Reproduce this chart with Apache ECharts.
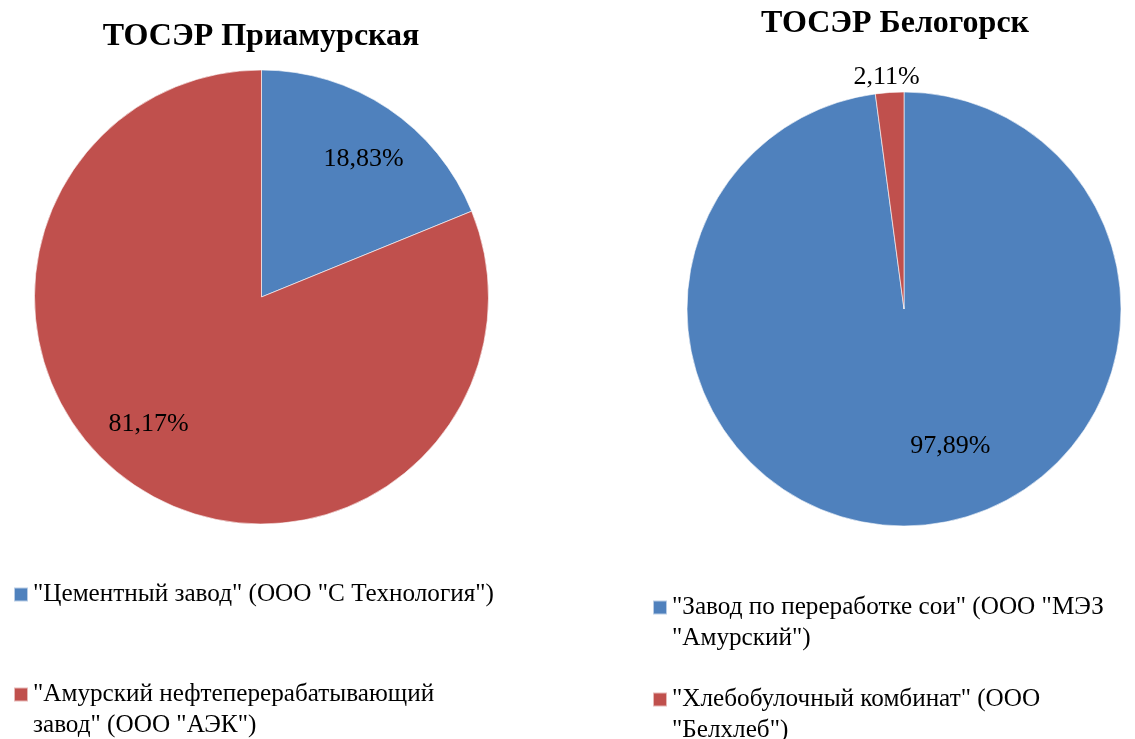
<!DOCTYPE html>
<html>
<head>
<meta charset="utf-8">
<script src="https://cdn.jsdelivr.net/npm/echarts@6/dist/echarts.min.js"></script>
<style>
  html, body { margin: 0; padding: 0; background: #fff; }
  #chart { width: 1135px; height: 739px; }
</style>
</head>
<body>
<div id="chart"></div>
<script>
// левая диаграмма
let leftTitle = 'ТОСЭР Приамурская'
let leftNames = ['"Цементный завод" (ООО "С Технология")', '"Амурский нефтеперерабатывающий завод" (ООО "АЭК")']
let leftLegend = ['"Цементный завод" (ООО "С Технология")', '"Амурский нефтеперерабатывающий\nзавод" (ООО "АЭК")']
let leftValues = [18.83, 81.17]

// правая диаграмма
let rightTitle = 'ТОСЭР Белогорск'
let rightNames = ['"Завод по переработке сои" (ООО "МЭЗ "Амурский")', '"Хлебобулочный комбинат" (ООО "Белхлеб")']
let rightLegend = ['"Завод по переработке сои" (ООО "МЭЗ\n"Амурский")', '"Хлебобулочный комбинат" (ООО\n"Белхлеб")']
let rightValues = [97.89, 2.11]

const colors = ['#4F81BD', '#C0504D']
const font = '"Liberation Serif", "Times New Roman", serif'

// смещения подписей от стандартного положения inside
const leftOffsets = [[37, -41], [-48, 30]]
const rightOffsets = [[39, 26], [-10, -121]]

const legendFont = { fontFamily: font, fontSize: 25.2, lineHeight: 31, color: '#000' }

function fmt(v) {
  return v.toFixed(2).replace('.', ',') + '%'
}

function pieData(names, values, offsets) {
  return names.map((n, i) => ({
    name: n,
    value: values[i],
    itemStyle: { color: colors[i] },
    label: { offset: offsets[i] }
  }))
}

// двухстрочная подпись: пустая строка сверху, чтобы значок стоял у первой строки
function legendText(names, labels) {
  return name => {
    let s = labels[names.indexOf(name)]
    return s.indexOf('\n') >= 0 ? '\n' + s : s
  }
}

let chart = echarts.init(document.getElementById('chart'))

let option = {
  backgroundColor: '#fff',
  animation: false,
  title: [{
    text: leftTitle,
    left: 256,
    top: 16,
    textAlign: 'center',
    textStyle: { fontFamily: font, fontSize: 32, fontWeight: 'bold', color: '#000' }
  }, {
    text: rightTitle,
    left: 890,
    top: 3,
    textAlign: 'center',
    textStyle: { fontFamily: font, fontSize: 32, fontWeight: 'bold', color: '#000' }
  }],
  legend: [{
    orient: 'vertical',
    left: 13,
    top: 579,
    height: 200,
    padding: 0,
    itemWidth: 14,
    itemHeight: 14,
    itemGap: 38,
    icon: 'rect',
    selectedMode: false,
    data: leftNames,
    formatter: legendText(leftNames, leftLegend),
    textStyle: legendFont
  }, {
    orient: 'vertical',
    left: 652,
    top: 561,
    height: 200,
    padding: 0,
    itemWidth: 14,
    itemHeight: 14,
    itemGap: -1,
    icon: 'rect',
    selectedMode: false,
    data: rightNames,
    formatter: legendText(rightNames, rightLegend),
    textStyle: legendFont
  }],
  series: [{
    type: 'pie',
    center: [261.5, 297],
    radius: 227,
    startAngle: 90,
    clockwise: true,
    label: {
      show: true,
      position: 'inside',
      formatter: p => fmt(p.value),
      fontFamily: font,
      fontSize: 26,
      color: '#000'
    },
    labelLine: { show: false },
    itemStyle: { borderColor: 'rgba(255,255,255,0.6)', borderWidth: 1 },
    emphasis: { disabled: true },
    data: pieData(leftNames, leftValues, leftOffsets)
  }, {
    type: 'pie',
    center: [904, 309],
    radius: 217,
    startAngle: 90,
    clockwise: true,
    label: {
      show: true,
      position: 'inside',
      formatter: p => fmt(p.value),
      fontFamily: font,
      fontSize: 26,
      color: '#000'
    },
    labelLine: { show: false },
    itemStyle: { borderColor: 'rgba(255,255,255,0.6)', borderWidth: 1 },
    emphasis: { disabled: true },
    data: pieData(rightNames, rightValues, rightOffsets)
  }]
}

chart.setOption(option)
</script>
</body>
</html>
